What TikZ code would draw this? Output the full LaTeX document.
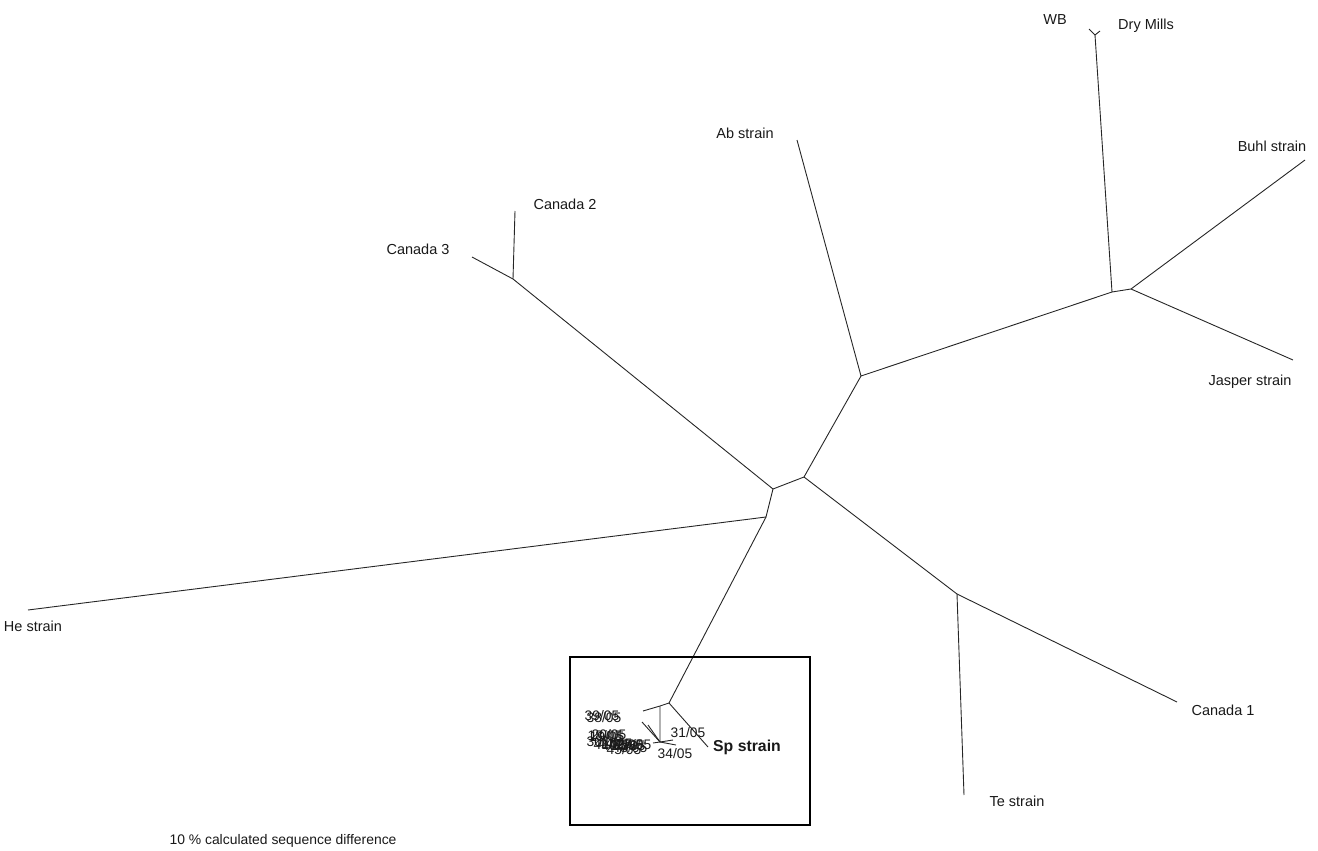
\documentclass[tikz,border=0pt]{standalone}
\usepackage{fontspec}
\setmainfont{Liberation Sans}
\tikzset{branch/.style={draw=black!85, line width=0.9pt},
         lab/.style={inner sep=0pt, text=black!90, font=\fontsize{14.5}{16}\selectfont},
         sample/.style={lab, font=\fontsize{13.8}{15}\selectfont}}

\begin{document}
\begin{tikzpicture}[x=1pt, y=-1pt]
  \useasboundingbox (0,0) rectangle (1318,851);
  % inner junctions
  \coordinate (A) at (1112,292);
  \coordinate (B) at (1131,289);
  \coordinate (C) at (861,376);
  \coordinate (D) at (804,477);
  \coordinate (E) at (773,489);
  \coordinate (F) at (513,279);
  \coordinate (G) at (766,517);
  \coordinate (H) at (669,703);
  \coordinate (I) at (957,594);
  \coordinate (K) at (660,706);
  \coordinate (J) at (660,742);
  \coordinate (Y) at (1095,35);
  % tips
  \coordinate (tWB)  at (1089,29);
  \coordinate (tDM)  at (1100,31);
  \coordinate (tBu)  at (1305,160);
  \coordinate (tJa)  at (1293,360);
  \coordinate (tAb)  at (797,140);
  \coordinate (tCa2) at (515,211);
  \coordinate (tCa3) at (472,257);
  \coordinate (tHe)  at (28,610);
  \coordinate (tCa1) at (1177,702);
  \coordinate (tTe)  at (964,795);
  \coordinate (tSp)  at (708,747);
  \coordinate (t39)  at (643,711);
  \coordinate (t34)  at (676,745);
  \coordinate (ta)   at (642,722);
  \coordinate (tb)   at (648,725);
  \coordinate (tc)   at (653,743);
  \coordinate (td)   at (673,740);

  \draw[branch] (tWB) -- (Y) -- (tDM);
  \draw[branch] (Y) -- (A) -- (B) -- (tBu);
  \draw[branch] (B) -- (tJa);
  \draw[branch] (A) -- (C) -- (tAb);
  \draw[branch] (C) -- (D) -- (E) -- (F) -- (tCa3);
  \draw[branch] (F) -- (tCa2);
  \draw[branch] (E) -- (G) -- (tHe);
  \draw[branch] (G) -- (H) -- (tSp);
  \draw[branch] (D) -- (I) -- (tCa1);
  \draw[branch] (I) -- (tTe);
  \draw[branch] (H) -- (K) -- (t39);
  \draw[branch] (K) -- (J) -- (t34);
  \draw[branch] (J) -- (ta);
  \draw[branch] (J) -- (tb);
  \draw[branch] (J) -- (tc);
  \draw[branch] (J) -- (td);

  \node[lab] (wb)   at (1055,20)  {WB};
  \node[lab] (dry)  at (1146,26)  {Dry Mills};
  \node[lab] (buhl) at (1272,146) {Buhl strain};
  \node[lab] (jas)  at (1250,382) {Jasper strain};
  \node[lab] (ab)   at (745,133)  {Ab strain};
  \node[lab] (ca2)  at (565,204)  {Canada 2};
  \node[lab] (ca3)  at (418,249)  {Canada 3};
  \node[lab] (he)   at (33,626)   {He strain};
  \node[lab] (ca1)  at (1223,710) {Canada 1};
  \node[lab] (te)   at (1017,801) {Te strain};
  \node[lab, font=\fontsize{15.8}{17}\selectfont\bfseries] (sp) at (747,747) {Sp strain};
  \node[sample] (s31) at (688,733) {31/05};
  \node[sample] (s34) at (675,754) {34/05};
  \foreach \x/\y/\t [count=\i] in {602/716/{39/05}, 604/718/{38/05},
      605/736/{18/05}, 607/737/{19/05}, 609/735/{20/05}, 604/742/{30/05},
      611/745/{41/05}, 615/744/{44/05}, 619/746/{40/05}, 626/745/{42/05},
      630/748/{43/05}, 634/745/{27/05}, 628/746/{26/05}, 624/750/{45/05}}
    \node[sample] (c\i) at (\x,\y) {\t};

  \draw[line width=1.4pt] (570,657) rectangle (810,825);
  \node[lab, font=\fontsize{13.9}{15}\selectfont] (scale) at (283,841)
    {10 \% calculated sequence difference};
\end{tikzpicture}
\end{document}
